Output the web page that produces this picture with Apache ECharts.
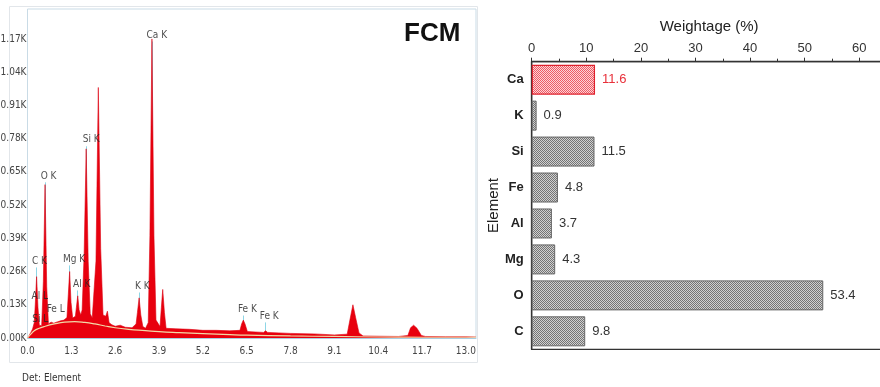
<!DOCTYPE html>
<html>
<head>
<meta charset="utf-8">
<script src="https://cdn.jsdelivr.net/npm/echarts@6/dist/echarts.min.js"></script>
<style>
html,body{margin:0;padding:0;background:#fff;}
#c{width:880px;height:387px;}
</style>
</head>
<body>
<div id="c"></div>
<script>
// ---------- EDS spectrum (left) ----------
const specEnergy = [0.00,0.05,0.10,0.15,0.20,0.23,0.27,0.31,0.35,0.42,0.47,0.52,0.57,0.62,0.70,0.78,0.88,0.98,1.08,1.17,1.21,1.25,1.29,1.34,1.42,1.45,1.49,1.53,1.58,1.62,1.68,1.74,1.80,1.86,1.92,1.97,2.03,2.10,2.17,2.24,2.32,2.37,2.42,2.50,2.60,2.75,2.90,3.10,3.22,3.26,3.31,3.36,3.42,3.50,3.58,3.63,3.69,3.75,3.81,3.93,3.97,4.01,4.06,4.11,4.40,4.80,5.20,5.60,6.00,6.30,6.35,6.40,6.45,6.52,7.00,7.06,7.12,7.80,8.50,9.10,9.48,9.56,9.65,9.73,9.83,9.95,10.40,11.00,11.28,11.36,11.45,11.55,11.68,11.80,12.40,13.00,13.30];
const specCounts = [0,10,22,35,60,130,240,120,50,48,220,600,200,55,62,58,63,67,70,80,170,260,140,78,85,120,165,110,90,110,330,740,300,95,78,85,300,980,350,90,85,105,60,52,46,50,42,40,55,100,157,90,45,38,60,400,1170,400,70,45,120,190,100,38,36,34,30,30,28,30,55,70,55,25,22,28,22,18,16,12,15,70,130,80,20,8,7,6,10,40,50,38,10,6,5,5,4];
const bgEnergy = [0.0,0.1,0.2,0.35,0.5,0.8,1.1,1.4,1.7,2.0,2.3,2.6,3.0,3.5,3.9,4.5,5.2,6.0,6.5,7.8,9.1,10.4,11.7,13.0,13.3];
const bgCounts = [0,15,28,38,45,55,62,64,61,55,47,40,34,29,25,21,17,13,11,8,6,4,3,3,3];
const peakNames = ['Ca K','Si K','O K','C K','Mg K','Al K','K K','Fe K','Fe K','Al L','Si L','Fe L'];
const peakEnergy = [3.69,1.74,0.52,0.27,1.25,1.49,3.31,6.40,7.06,0.10,0.12,0.70];
const labelEnergy = [3.53,1.64,0.39,0.13,1.05,1.35,3.19,6.24,6.89,0.12,0.14,0.57];
const labelCounts = [1185,775,634,301,309,211,203,113,86,164,74,110];
const markedPeaks = 9; // K-line labels carry a marker line
const xTickLabels = ['0.0','1.3','2.6','3.9','5.2','6.5','7.8','9.1','10.4','11.7','13.0'];

// ---------- Weightage bar chart (right) ----------
const elements = ['Ca','K','Si','Fe','Al','Mg','O','C'];
const weightage = [11.6,0.9,11.5,4.8,3.7,4.3,53.4,9.8];
const weightTicks = ['0','10','20','30','40','50','60'];

function pattern(c1, c2){
  const cv = document.createElement('canvas');
  cv.width = 2; cv.height = 2;
  const g = cv.getContext('2d');
  g.fillStyle = c2; g.fillRect(0,0,2,2);
  g.fillStyle = c1; g.fillRect(0,0,1,1); g.fillRect(1,1,1,1);
  return {image: cv, repeat: 'repeat'};
}
const grayPat = pattern('#747474','#d0d0d0');
const redPat = pattern('#ee5a64','#fcd4d7');

const narrow = '"Liberation Sans Narrow","DejaVu Sans Condensed","Liberation Sans",sans-serif';
const sans = '"Liberation Sans",Arial,sans-serif';

const chart = echarts.init(document.getElementById('c'), null, {renderer:'canvas', width:880, height:387});

const spec = specEnergy.map((e,i)=>[e, specCounts[i]]);
const bg = bgEnergy.map((e,i)=>[e, bgCounts[i]]);
const markers = peakEnergy.slice(0, markedPeaks).map((e,i)=>[{coord:[e, labelCounts[i]-25]},{coord:[e, 0]}]);
const labelPts = peakNames.map((n,i)=>({name:n, value:[labelEnergy[i], labelCounts[i]]}));

chart.setOption({
  animation:false,
  backgroundColor:'#fff',
  graphic:[
    {type:'rect', shape:{x:9.5,y:6.5,width:468,height:356}, style:{fill:'none',stroke:'#e2e6ea',lineWidth:1}, z:-1},
    {type:'text', left:404, top:21, style:{text:'FCM', font:'bold 26px '+sans, fill:'#111'}},
    {type:'text', left:22, top:373, style:{text:'Det: Element', font:'10px '+narrow, fill:'#333'}}
  ],
  grid:[
    {left:27.5, top:9, width:448.5, height:329, show:true, borderColor:'#c9dbe6', borderWidth:1, backgroundColor:'transparent', outerBoundsMode:'none', containLabel:false},
    {left:531.7, top:61.7, width:354.9, height:287.6, show:true, borderColor:'#333', borderWidth:1.3, outerBoundsMode:'none', containLabel:false}
  ],
  xAxis:[
    {type:'value', gridIndex:0, min:0, max:13.3, interval:1.3,
     axisLine:{show:true, lineStyle:{color:'#a8cfe2'}}, axisTick:{show:false}, splitLine:{show:false},
     axisLabel:{fontSize:10, fontFamily:narrow, color:'#444', margin:8, showMaxLabel:false,
       formatter:(v)=>{const i=Math.round(v/1.3); return xTickLabels[i]||'';}}},
    {type:'value', gridIndex:1, position:'top', min:0, max:65, interval:10,
     axisLine:{show:true, lineStyle:{color:'#333', width:1.3}},
     axisTick:{show:true, length:4, lineStyle:{color:'#333'}},
     minorTick:{show:true, splitNumber:2, length:3, lineStyle:{color:'#333'}},
     splitLine:{show:false},
     axisLabel:{fontSize:13, color:'#333', margin:7, fontFamily:sans, showMaxLabel:false,
       formatter:(v)=>{const i=Math.round(v/10); return (Math.abs(v-i*10)<1e-6 && weightTicks[i]) || '';}},
     name:'Weightage (%)', nameLocation:'middle', nameGap:27,
     nameTextStyle:{fontSize:15, color:'#222', fontFamily:sans}}
  ],
  yAxis:[
    {type:'value', gridIndex:0, min:0, max:1287, interval:130,
     axisLine:{show:false}, axisTick:{show:false}, splitLine:{show:false},
     axisLabel:{fontSize:10, fontFamily:narrow, color:'#444', margin:1, showMaxLabel:false,
       formatter:(v)=>(v/1000).toFixed(2)+'K'}},
    {type:'category', gridIndex:1, inverse:true, data:elements,
     axisLine:{show:true, lineStyle:{color:'#333', width:1.3}}, axisTick:{show:false},
     axisLabel:{fontSize:13, fontWeight:'bold', color:'#222', margin:8, fontFamily:sans},
     name:'Element', nameLocation:'middle', nameGap:24, nameRotate:90,
     nameTextStyle:{fontSize:15, color:'#222', fontFamily:sans}}
  ],
  series:[
    {type:'line', xAxisIndex:0, yAxisIndex:0, data:[], z:1, silent:true,
     markLine:{silent:true, z:1, symbol:'none', label:{show:false}, lineStyle:{color:'#8ed6e6', width:1, type:'solid'}, data:markers}},
    {type:'line', xAxisIndex:0, yAxisIndex:0, data:spec, showSymbol:false, z:2,
     lineStyle:{color:'#dd0010', width:0.6}, areaStyle:{color:'#e8000e', opacity:1}},
    {type:'line', xAxisIndex:0, yAxisIndex:0, data:bg, showSymbol:false, smooth:true, z:3,
     lineStyle:{color:'#f2d9a8', width:1.2}},
    {type:'scatter', xAxisIndex:0, yAxisIndex:0, data:labelPts, symbolSize:0, z:4,
     label:{show:true, position:'right', distance:0, formatter:'{b}', fontSize:10, fontFamily:narrow, color:'#222'}},
    {type:'bar', xAxisIndex:1, yAxisIndex:1, barWidth:30,
     data:weightage.map((v,i)=>({value:v,
       itemStyle: i===0 ? {color:redPat, borderColor:'#e0202c', borderWidth:1.2} : {color:grayPat, borderColor:'#666', borderWidth:1},
       label: i===0 ? {color:'#e8303a'} : {}})),
     label:{show:true, position:'right', distance:7, fontSize:13, color:'#333', fontFamily:sans}}
  ]
});
</script>
</body>
</html>
